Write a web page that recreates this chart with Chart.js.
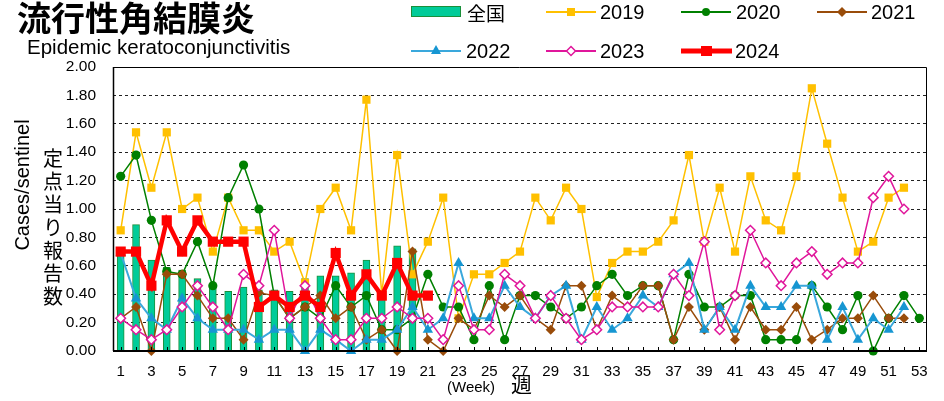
<!DOCTYPE html>
<html><head><meta charset="utf-8">
<script src="https://cdn.jsdelivr.net/npm/chart.js@4/dist/chart.umd.min.js"></script>
<style>
body{margin:0;background:#fff;width:944px;height:401px;overflow:hidden;position:relative;font-family:"Liberation Sans",Arial,sans-serif;color:#000;}
canvas{position:absolute;left:0;top:0;}
.t{position:absolute;white-space:nowrap;line-height:1;transform:translateY(-50%);}
.cjk{font-family:"Noto Sans CJK JP","Noto Sans",sans-serif;}
.lg{position:absolute;transform:translateY(-50%);line-height:0;}
.vt{position:absolute;text-align:center;font-size:20px;line-height:23px;transform:translate(-50%,-50%);}
</style>
</head><body>
<canvas id="c" width="944" height="401"></canvas>
<div class="t cjk" style="left:17px;top:17px;font-size:34px;font-weight:bold;">流行性角結膜炎</div>
<div class="t" style="left:27px;top:47px;font-size:20.5px;">Epidemic keratoconjunctivitis</div>
<div class="t" style="left:22px;top:185px;font-size:20px;transform:translate(-50%,-50%) rotate(-90deg);">Cases/sentinel</div>
<div class="vt cjk" style="left:53px;top:226px;">定<br>点<br>当<br>り<br>報<br>告<br>数</div>
<div class="t" style="left:447px;top:386px;font-size:15px;">(Week)</div>
<div class="t cjk" style="left:511px;top:383px;font-size:21px;">週</div>

<div class="lg" style="left:411px;top:12px;"><svg width="51" height="12"><rect x="0.5" y="0.5" width="49" height="10" fill="#00CC99" stroke="#1A8F3A"/></svg></div>
<div class="t cjk" style="left:467px;top:12px;font-size:19px;">全国</div>
<div class="lg" style="left:546px;top:12px;"><svg width="51" height="14"><line x1="0" y1="7" x2="50" y2="7" stroke="#FFC000" stroke-width="2"/><rect x="21" y="3" width="8" height="8" fill="#FFC000"/></svg></div>
<div class="t" style="left:600px;top:12px;font-size:20px;">2019</div>
<div class="lg" style="left:681px;top:12px;"><svg width="51" height="14"><line x1="0" y1="7" x2="50" y2="7" stroke="#008000" stroke-width="2"/><circle cx="25" cy="7" r="4" fill="#008000"/></svg></div>
<div class="t" style="left:736px;top:12px;font-size:20px;">2020</div>
<div class="lg" style="left:817px;top:12px;"><svg width="51" height="14"><line x1="0" y1="7" x2="50" y2="7" stroke="#994C0A" stroke-width="2"/><polygon points="25,2 30,7 25,12 20,7" fill="#994C0A"/></svg></div>
<div class="t" style="left:871px;top:12px;font-size:20px;">2021</div>

<div class="lg" style="left:411px;top:51px;"><svg width="51" height="14"><line x1="0" y1="7" x2="50" y2="7" stroke="#3AA8DC" stroke-width="2"/><polygon points="25,1 30,10 20,10" fill="#1696D2"/></svg></div>
<div class="t" style="left:466px;top:51px;font-size:20px;">2022</div>
<div class="lg" style="left:546px;top:51px;"><svg width="51" height="14"><line x1="0" y1="7" x2="50" y2="7" stroke="#E0169B" stroke-width="2"/><polygon points="25,2.5 29.5,7 25,11.5 20.5,7" fill="#fff" stroke="#E0169B" stroke-width="1.5"/></svg></div>
<div class="t" style="left:600px;top:51px;font-size:20px;">2023</div>
<div class="lg" style="left:681px;top:51px;"><svg width="52" height="14"><line x1="0" y1="7" x2="51" y2="7" stroke="#FF0000" stroke-width="5"/><rect x="20" y="2" width="11" height="10" fill="#FF0000"/></svg></div>
<div class="t" style="left:735px;top:51px;font-size:20px;">2024</div>

<script>
const weeks = ['1','2','3','4','5','6','7','8','9','10','11','12','13','14','15','16','17','18','19','20','21','22','23','24','25','26','27','28','29','30','31','32','33','34','35','36','37','38','39','40','41','42','43','44','45','46','47','48','49','50','51','52','53'];
const yTicks = [0,0.2,0.4,0.6,0.8,1.0,1.2,1.4,1.6,1.8,2.0];

const national = [0.68,0.89,0.64,0.59,0.57,0.51,0.46,0.42,0.45,0.43,0.43,0.42,0.51,0.53,0.53,0.55,0.64,0.41,0.74,0.72];
const y2019 = [0.85,1.54,1.15,1.54,1.00,1.08,0.70,1.08,0.85,0.85,0.70,0.77,0.48,1.00,1.15,0.85,1.77,0.40,1.38,0.54,0.77,1.08,0.23,0.54,0.54,0.62,0.70,1.08,0.92,1.15,1.00,0.38,0.62,0.70,0.70,0.77,0.92,1.38,0.77,1.15,0.70,1.23,0.92,0.85,1.23,1.85,1.46,1.08,0.70,0.77,1.08,1.15,null];
const y2020 = [1.23,1.38,0.92,0.56,0.54,0.77,0.46,1.08,1.31,1.00,0.39,0.23,0.31,0.23,0.46,0.31,0.39,0.15,0.15,0.23,0.54,0.31,0.31,0.08,0.46,0.08,0.39,0.39,0.31,0.23,0.31,0.46,0.54,0.39,0.46,0.46,0.08,0.54,0.31,0.31,0.39,0.39,0.08,0.08,0.08,0.46,0.31,0.15,0.39,0.00,0.23,0.39,0.23];
const y2021 = [0.23,0.31,0.00,0.54,0.54,0.39,0.23,0.23,0.08,0.41,0.39,0.23,0.31,0.39,0.23,0.31,0.08,0.15,0.00,0.70,0.08,0.00,0.23,0.15,0.39,0.31,0.39,0.23,0.15,0.46,0.46,0.15,0.39,0.31,0.46,0.46,0.08,0.31,0.15,0.31,0.08,0.31,0.15,0.15,0.31,0.08,0.15,0.23,0.23,0.39,0.23,0.23,null];
const y2022 = [0.69,0.37,0.23,0.15,0.37,0.23,0.15,0.15,0.15,0.08,0.15,0.15,0.00,0.15,0.08,0.00,0.08,0.08,0.15,0.31,0.15,0.23,0.62,0.23,0.23,0.46,0.31,0.23,0.39,0.46,0.08,0.31,0.15,0.23,0.39,0.31,0.54,0.62,0.15,0.31,0.15,0.46,0.31,0.31,0.46,0.46,0.08,0.31,0.08,0.23,0.15,0.31,null];
const y2023 = [0.23,0.15,0.08,0.15,0.31,0.46,0.31,0.15,0.54,0.46,0.85,0.23,0.46,0.23,0.08,0.08,0.23,0.23,0.31,0.23,0.23,0.08,0.46,0.15,0.15,0.54,0.46,0.23,0.39,0.23,0.08,0.15,0.31,0.31,0.31,0.31,0.54,0.39,0.77,0.15,0.39,0.85,0.62,0.46,0.62,0.70,0.54,0.62,0.62,1.08,1.23,1.00,null];
const y2024 = [0.70,0.70,0.46,0.92,0.70,0.92,0.77,0.77,0.77,0.31,0.39,0.31,0.39,0.31,0.69,0.39,0.54,0.39,0.62,0.39,0.39];

function lineDs(label, data, color, ptColor, style, radius, width, order, fill){
  return {type:'line', label, data, borderColor:color, backgroundColor: fill || ptColor,
    pointBackgroundColor: fill || ptColor, pointBorderColor: ptColor, pointBorderWidth: fill ? 1.5 : 0,
    pointStyle: style, pointRadius: radius, pointHoverRadius: radius, borderWidth: width,
    tension:0, order, clip:false, spanGaps:false};
}

const framePlugin = {
  id:'frame',
  afterDatasetsDraw(chart){
    const {ctx, chartArea:a, scales:{x}} = chart;
    ctx.save();
    ctx.setLineDash([]);
    ctx.strokeStyle = '#000';
    ctx.lineWidth = 1;
    ctx.beginPath();
    ctx.moveTo(a.left, a.top+0.5); ctx.lineTo(a.right-0.5, a.top+0.5); ctx.lineTo(a.right-0.5, a.bottom);
    ctx.stroke();
    ctx.lineWidth = 1.5;
    ctx.beginPath(); ctx.moveTo(a.left+0.5, a.top); ctx.lineTo(a.left+0.5, a.bottom); ctx.stroke();
    ctx.lineWidth = 2;
    ctx.beginPath(); ctx.moveTo(a.left, a.bottom); ctx.lineTo(a.right, a.bottom); ctx.stroke();
    ctx.lineWidth = 1;
    ctx.beginPath();
    for (let i = 0; i < weeks.length; i++){
      const px = Math.round(x.getPixelForValue(i)) + 0.5;
      ctx.moveTo(px, a.bottom); ctx.lineTo(px, a.bottom - 4);
    }
    ctx.stroke();
    ctx.restore();
  }
};

new Chart(document.getElementById('c'), {
  type:'bar',
  data:{
    labels: weeks,
    datasets:[
      lineDs('2024', y2024, '#FF0000', '#FF0000', 'rect', 7.2, 4.5, 1),
      lineDs('2023', y2023, '#E0169B', '#E0169B', 'rectRot', 4.8, 1.5, 2, '#FFFFFF'),
      lineDs('2022', y2022, '#3AA8DC', '#1696D2', 'triangle', 6, 2, 3),
      lineDs('2021', y2021, '#994C0A', '#994C0A', 'rectRot', 5, 1.5, 4),
      lineDs('2020', y2020, '#008000', '#008000', 'circle', 4.6, 1.5, 5),
      lineDs('2019', y2019, '#FFC000', '#FFC000', 'rect', 5.8, 1.5, 6),
      {type:'bar', label:'全国', data: national, backgroundColor:'#00CC99', borderColor:'#1A8F3A', borderWidth:1, barThickness:7, order:10}
    ]
  },
  options:{
    responsive:false, animation:false,
    layout:{padding:{left:0, top:67, right:17, bottom:0}},
    plugins:{legend:{display:false}, tooltip:{enabled:false}},
    scales:{
      x:{
        offset:true,
        grid:{display:false, drawTicks:false},
        border:{display:false},
        ticks:{autoSkip:false, maxRotation:0, minRotation:0, padding:12, color:'#000',
          font:{family:'"Liberation Sans", Arial, sans-serif', size:15},
          callback:(v,i)=> i % 2 === 0 ? weeks[i] : ''},
        afterFit(s){ s.height = 50; }
      },
      y:{
        min:0, max:2,
        afterBuildTicks(s){ s.ticks = yTicks.map(v=>({value:v})); },
        grid:{color:'#222', lineWidth:1, drawTicks:false},
        border:{display:false, dash:[3,3]},
        ticks:{padding:17, color:'#000', font:{family:'"Liberation Sans", Arial, sans-serif', size:15.5},
          callback:(v)=> Number(v).toFixed(2)},
        afterFit(s){ s.width = 113; }
      }
    }
  },
  plugins:[framePlugin]
});
</script>
</body></html>
